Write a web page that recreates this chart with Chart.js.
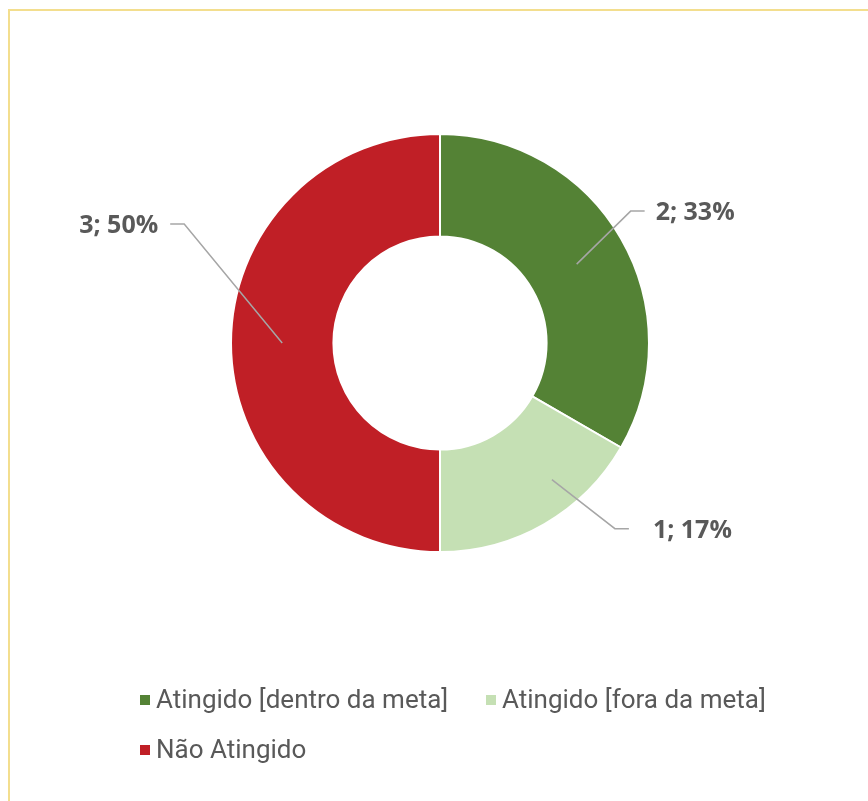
<!DOCTYPE html>
<html>
<head>
<meta charset="utf-8">
<script src="https://cdn.jsdelivr.net/npm/chart.js@4"></script>
<style>
    html, body { margin: 0; padding: 0; background: #ffffff; overflow: hidden; }
    #kader { position: absolute; left: 8px; top: 9px; width: 900px; height: 850px;
             border-left: 2px solid #F3DE8E; border-top: 2px solid #F3DE8E; }
    #grafiek { position: absolute; left: 0; top: 0; }
</style>
</head>
<body>
<div id="kader"></div>
<canvas id="grafiek" width="868" height="801"></canvas>
<script>
// Data
var categorieen = ['Atingido [dentro da meta]', 'Atingido [fora da meta]', 'Não Atingido'];
var aantallen = [2, 1, 3];
var kleuren = ['#548235', '#C5E0B4', '#C01F26'];

// Plaats van de labels t.o.v. het midden van elk segment
var labelOpties = [
    { verschuif: [0, 0], knik: [54, -53], kant: 1, afstand: 11 },
    { verschuif: [33, 0], knik: [63, 49], kant: 1, afstand: 24 },
    { verschuif: [0, 0], knik: [-98, -119], kant: -1, afstand: 12 }
];

// Legenda posities
var legendaPlaats = [
    { x: 140, y: 700 },
    { x: 486, y: 700 },
    { x: 140, y: 750 }
];

var totaal = aantallen.reduce(function (a, b) { return a + b; }, 0);

// Labels met aanwijslijnen tekenen
var labelPlugin = {
    id: 'labelPlugin',
    afterDatasetsDraw: function (chart) {
        var ctx = chart.ctx;
        var meta = chart.getDatasetMeta(0);
        ctx.save();
        meta.data.forEach(function (boog, i) {
            var p = boog.getProps(['x', 'y', 'startAngle', 'endAngle', 'innerRadius', 'outerRadius'], true);
            var hoek = (p.startAngle + p.endAngle) / 2;
            var r = (p.innerRadius + p.outerRadius) / 2;
            var opt = labelOpties[i];
            var x0 = p.x + r * Math.cos(hoek) + opt.verschuif[0];
            var y0 = p.y + r * Math.sin(hoek) + opt.verschuif[1];
            var x1 = x0 + opt.knik[0];
            var y1 = y0 + opt.knik[1];
            var x2 = x1 + 14 * opt.kant;

            ctx.strokeStyle = '#A6A6A6';
            ctx.lineWidth = 1.5;
            ctx.beginPath();
            ctx.moveTo(x0, y0);
            ctx.lineTo(x1, y1);
            ctx.lineTo(x2, y1);
            ctx.stroke();

            var pct = Math.round(aantallen[i] / totaal * 100);
            ctx.fillStyle = '#595959';
            ctx.font = 'bold 25px "Open Sans"';
            ctx.textBaseline = 'middle';
            ctx.textAlign = opt.kant > 0 ? 'left' : 'right';
            ctx.fillText(aantallen[i] + '; ' + pct + '%', x2 + opt.afstand * opt.kant, y1 + 2);
        });
        ctx.restore();
    }
};

// Eigen legenda
var legendaPlugin = {
    id: 'legendaPlugin',
    afterDraw: function (chart) {
        var ctx = chart.ctx;
        ctx.save();
        categorieen.forEach(function (naam, i) {
            var pos = legendaPlaats[i];
            ctx.fillStyle = kleuren[i];
            ctx.fillRect(pos.x, pos.y - 5, 10, 10);
            ctx.fillStyle = '#595959';
            ctx.font = '26px Roboto';
            ctx.textBaseline = 'middle';
            ctx.textAlign = 'left';
            ctx.fillText(naam, pos.x + 16, pos.y + 1);
        });
        ctx.restore();
    }
};

var ctx = document.getElementById('grafiek').getContext('2d');
var donutChart = new Chart(ctx, {
    type: 'doughnut',
    data: {
        labels: categorieen,
        datasets: [{
            data: aantallen,
            backgroundColor: kleuren,
            borderColor: '#ffffff',
            borderWidth: 2
        }]
    },
    options: {
        responsive: false,
        animation: false,
        cutout: '51%',
        layout: { padding: { left: 230, right: 218, top: 133, bottom: 248 } },
        plugins: {
            legend: { display: false },
            tooltip: { enabled: false }
        }
    },
    plugins: [labelPlugin, legendaPlugin]
});
</script>
</body>
</html>
